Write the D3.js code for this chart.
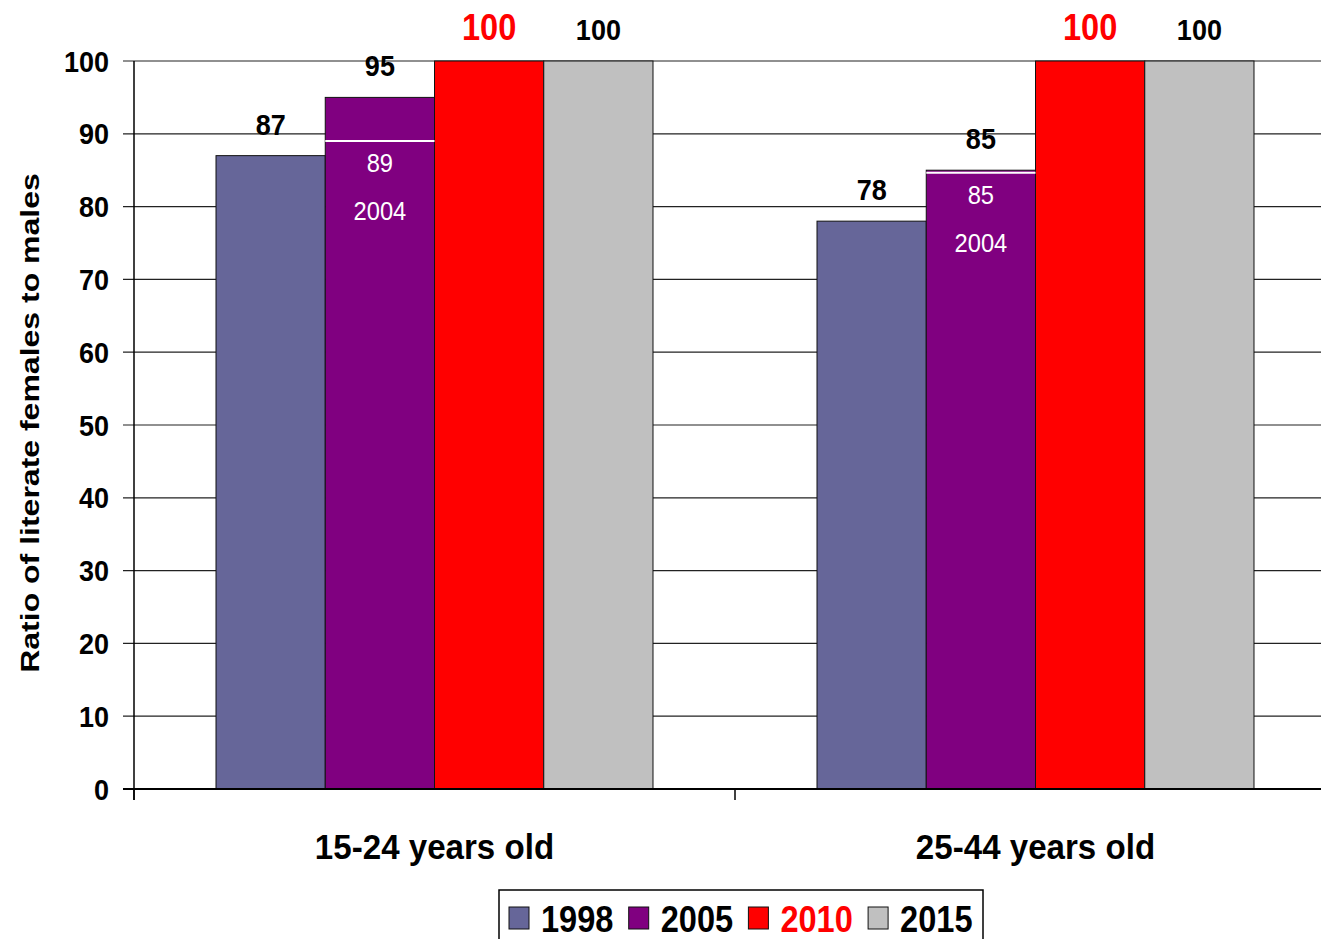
<!DOCTYPE html>
<html>
<head>
<meta charset="utf-8">
<script src="https://cdn.jsdelivr.net/npm/d3@7"></script>
<style>
  html, body { margin: 0; padding: 0; background: #fff; }
  svg { display: block; font-family: "Liberation Sans", Arial, sans-serif; }
</style>
</head>
<body>
<svg id="chart" width="1321" height="939"></svg>
<script>
// Ratio of literate females to males, by age group
const categories = ["15-24 years old", "25-44 years old"];
const seriesNames = ["1998", "2005", "2010", "2015"];
const values1998 = [87, 78];
const values2005 = [95, 85];
const values2010 = [100, 100];
const values2015 = [100, 100];
// 2004 reading marked inside the 2005 bar
const values2004 = [89, 85];
const marker2004Label = "2004";
const yTicks = [0, 10, 20, 30, 40, 50, 60, 70, 80, 90, 100];
const yTitle = "Ratio of literate females to males";

const seriesValues = [values1998, values2005, values2010, values2015];
const seriesColors = ["#666699", "#800080", "#ff0000", "#c0c0c0"];
const labelColors = ["#000", "#000", "#ff0000", "#000"];

const svg = d3.select("#chart");

const x0 = d3.scaleBand()
  .domain(categories)
  .range([134, 1336])
  .paddingInner(0.2729)
  .paddingOuter(0.13645);
const x1 = d3.scaleBand()
  .domain(seriesNames)
  .range([0, x0.bandwidth()]);
const y = d3.scaleLinear().domain([0, 100]).range([789, 61]);

// horizontally condensed text helper
function label(g, x, yPos, text, opts) {
  const t = g.append("text")
    .attr("transform", `translate(${x},${yPos}) scale(${opts.sx || 0.9},1)`)
    .attr("text-anchor", opts.anchor || "middle")
    .attr("font-size", opts.size)
    .attr("font-weight", opts.weight || "bold")
    .attr("fill", opts.fill || "#000")
    .text(text);
  return t;
}

// gridlines
const grid = svg.append("g");
grid.selectAll("line").data(yTicks.filter(d => d > 0)).join("line")
  .attr("x1", 123).attr("x2", 1336)
  .attr("y1", d => y(d)).attr("y2", d => y(d))
  .attr("stroke", "#222").attr("stroke-width", 1.2);

// bars
const groups = svg.append("g").selectAll("g")
  .data(categories).join("g")
  .attr("transform", c => `translate(${x0(c)},0)`);

groups.selectAll("rect")
  .data((c, i) => seriesNames.map((s, k) => ({ s, k, v: seriesValues[k][i] })))
  .join("rect")
  .attr("x", d => x1(d.s))
  .attr("y", d => y(d.v))
  .attr("width", x1.bandwidth())
  .attr("height", d => y(0) - y(d.v))
  .attr("fill", d => seriesColors[d.k])
  .attr("stroke", "#111")
  .attr("stroke-width", 1);

// 2004 marker line and its labels inside the 2005 bar
groups.each(function (c, i) {
  const g = d3.select(this);
  const bx = x1("2005");
  const top = y(values2005[i]);
  const my = Math.max(y(values2004[i]), top + 2.5);
  g.append("line")
    .attr("x1", bx).attr("x2", bx + x1.bandwidth())
    .attr("y1", my).attr("y2", my)
    .attr("stroke", "#fff").attr("stroke-width", 2);
  const cx = bx + x1.bandwidth() / 2;
  label(g, cx, my + 31, String(values2004[i]), { size: 25, weight: "normal", fill: "#fff", sx: 0.95 });
  label(g, cx, my + 79, marker2004Label, { size: 25, weight: "normal", fill: "#fff", sx: 0.95 });
});

// value labels above bars
groups.each(function (c, i) {
  const g = d3.select(this);
  seriesNames.forEach((s, k) => {
    const v = seriesValues[k][i];
    const cx = x1(s) + x1.bandwidth() / 2;
    if (k === 2) {
      label(g, cx, y(v) - 21.5, String(v), { size: 37, fill: labelColors[k], sx: 0.88 });
    } else {
      label(g, cx, y(v) - 21, String(v), { size: 30, fill: labelColors[k], sx: 0.9 });
    }
  });
});

// y axis
svg.append("line")
  .attr("x1", 134).attr("x2", 134).attr("y1", y(100)).attr("y2", 800)
  .attr("stroke", "#000").attr("stroke-width", 1.5);
svg.append("line")
  .attr("x1", 123).attr("x2", 1336).attr("y1", y(0)).attr("y2", y(0))
  .attr("stroke", "#000").attr("stroke-width", 2);
const yLab = svg.append("g");
yTicks.forEach(t => {
  label(yLab, 109, y(t) + 10.6, String(t), { size: 30, anchor: "end", sx: 0.9 });
});

// category separators and labels
const sepX = [x0.range()[0], x0.range()[0] + x0.step(), x0.range()[0] + 2 * x0.step()];
svg.append("g").selectAll("line").data(sepX).join("line")
  .attr("x1", d => d).attr("x2", d => d)
  .attr("y1", y(0)).attr("y2", 800)
  .attr("stroke", "#000").attr("stroke-width", 1.5);
const catLab = svg.append("g");
categories.forEach(c => {
  label(catLab, x0(c) + x0.bandwidth() / 2, 859, c, { size: 36, sx: 0.92 });
});

// y title
svg.append("text")
  .attr("transform", "translate(39,423) rotate(-90) scale(1,0.8)")
  .attr("text-anchor", "middle")
  .attr("font-size", 32)
  .attr("font-weight", "bold")
  .attr("fill", "#000")
  .text(yTitle);

// legend
const legend = svg.append("g");
legend.append("rect")
  .attr("x", 499).attr("y", 890).attr("width", 484).attr("height", 70)
  .attr("fill", "#fff").attr("stroke", "#000").attr("stroke-width", 1.5);
seriesNames.forEach((s, k) => {
  const lx = 509 + k * 119.7;
  legend.append("rect")
    .attr("x", lx).attr("y", 907).attr("width", 20).attr("height", 22)
    .attr("fill", seriesColors[k]).attr("stroke", "#111").attr("stroke-width", 1);
  label(legend, lx + 32, 931.5, s, { size: 37, anchor: "start", fill: labelColors[k], sx: 0.88 });
});
</script>
</body>
</html>
